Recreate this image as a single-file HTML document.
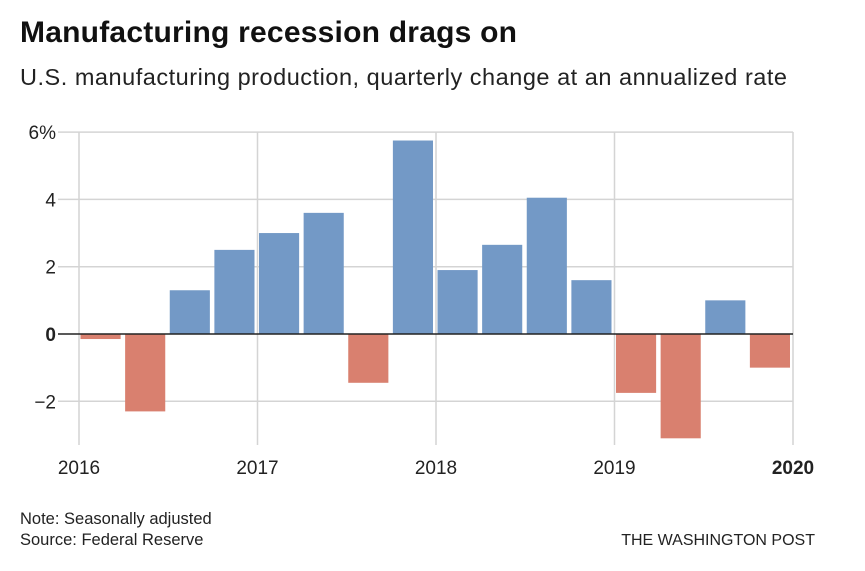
<!DOCTYPE html>
<html><head><meta charset="utf-8"><style>
body{margin:0;background:#fff;width:865px;height:571px;overflow:hidden;font-family:"Liberation Sans",sans-serif;}
</style></head><body>
<svg width="865" height="571" style="position:absolute;left:0;top:0">
<text x="20" y="42" font-size="30" font-weight="bold" fill="#111" textLength="497">Manufacturing recession drags on</text>
<text x="20" y="85" font-size="23.5" fill="#222" textLength="767">U.S. manufacturing production, quarterly change at an annualized rate</text>
<g id="grid"></g><g id="bars"></g><g id="axes"></g>
<text x="20" y="524" font-size="16.5" fill="#222">Note: Seasonally adjusted</text>
<text x="20" y="545" font-size="16.5" fill="#222">Source: Federal Reserve</text>
<text x="815" y="545" font-size="16" fill="#222" text-anchor="end">THE WASHINGTON POST</text>
</svg>
<script>
const values=[-0.15,-2.3,1.3,2.5,3.0,3.6,-1.45,5.75,1.9,2.65,4.05,1.6,-1.75,-3.1,1.0,-1.0];
const yTicks=[6,4,2,0,-2];
const yLabels=["6%","4","2","0","\u22122"];
const years=["2016","2017","2018","2019","2020"];
const NS="http://www.w3.org/2000/svg";
const x0=79,x1=793,yZero=334,pxPer=33.65,plotTop=132,plotBottom=445;
const qw=(x1-x0)/16;
const X=q=>x0+q*qw;
const Y=v=>yZero-v*pxPer;
function mk(t,a,p){const e=document.createElementNS(NS,t);for(const k in a)e.setAttribute(k,a[k]);p.appendChild(e);return e;}
const grid=document.getElementById('grid'),bars=document.getElementById('bars'),axes=document.getElementById('axes');
yTicks.forEach((v,i)=>{
 if(v!==0){const l=mk('line',{x1:58,x2:x1,y1:Y(v),y2:Y(v),stroke:'#d4d4d4','stroke-width':1.5},grid);
 
 }
 const t=mk('text',{x:56,y:Y(v)+7,'font-size':19,'text-anchor':'end',fill:'#222','font-weight':v===0?'bold':'normal'},axes);
 t.textContent=yLabels[i];
 
 
});
years.forEach((y,i)=>{
 const gx=X(i*4);
 const l=mk('line',{x1:gx,x2:gx,y1:plotTop,y2:plotBottom,stroke:'#d4d4d4','stroke-width':1.5},grid);
 
 
 const t=mk('text',{x:gx,y:474,'font-size':19,'text-anchor':'middle',fill:'#222','font-weight':i===4?'bold':'normal'},axes);
 t.textContent=y;
 
 
});
values.forEach((v,i)=>{
 const y=Math.min(Y(v),yZero),h=Math.abs(Y(v)-yZero);
 const r=mk('rect',{x:X(i)+1.5,y:y,width:qw-4.5,height:h,fill:v>=0?'#7399c6':'#d9806f'},bars);
 
 
});
const z=mk('line',{x1:58,x2:x1,y1:yZero,y2:yZero,stroke:'#222','stroke-width':1.5},axes);


</script>
</body></html>
